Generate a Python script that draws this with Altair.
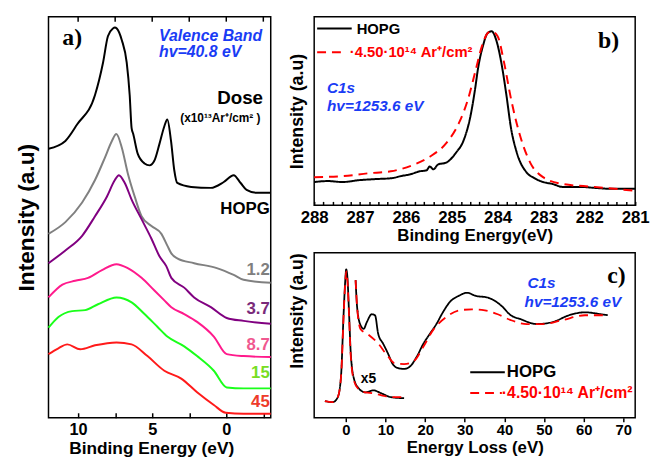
import altair as alt
import pandas as pd

SANS = "Liberation Sans"
SERIF = "Liberation Serif"
BLUE = "#1a3cf5"

# ---------------- Panel a: valence band spectra ----------------
a_names = ["HOPG", "1.2", "3.7", "8.7", "15", "45"]
a_line_colors = ["#000000", "#808080", "#800080", "#ff1a8c", "#1aff1a", "#ff1a1a"]
a_label_colors = ["#000000", "#7f7f7f", "#7a2a7a", "#f0588f", "#77dd22", "#ee3b2a"]

a_hopg_x = [12.0, 10.86, 10.06, 8.86, 8.32, 7.99, 7.65, 7.52, 7.39, 7.05, 6.72, 6.52, 6.39, 6.28, 5.98,
            5.52, 5.18, 4.85, 4.51, 4.18, 3.98, 3.73, 3.51, 3.31, 2.37, 1.04, 0.17, -0.50, -0.97, -1.37,
            -2.04, -3.0]
a_hopg_y = [275, 283, 300, 330, 363, 390, 398, 399, 398, 386, 363, 330, 296, 290, 270,
            260, 258, 263, 280, 298, 305, 283, 253, 240, 236, 235, 241, 248, 240, 233,
            230, 230]
a_12_x = [12.0, 10.86, 9.73, 8.86, 8.19, 7.72, 7.42, 7.05, 6.65, 6.18, 5.72, 5.05, 4.38, 3.98, 3.71,
          3.31, 2.17, 0.64, -0.50, -1.17, -3.0]
a_12_y = [188, 200, 220, 243, 266, 283, 290, 276, 250, 226, 206, 196, 188, 176, 168,
          163, 158, 153, 146, 141, 138]
a_37_x = [12.0, 10.86, 9.73, 8.86, 8.06, 7.52, 7.25, 6.85, 6.39, 5.72, 5.05, 4.51, 4.05, 3.71, 2.84,
          2.17, 1.04, -0.03, -1.17, -3.0]
a_37_y = [158, 171, 186, 206, 226, 243, 248, 240, 223, 203, 183, 165, 155, 143, 133,
          123, 113, 102, 99, 96]
a_87_x = [12.0, 11.06, 10.2, 9.33, 8.39, 7.41, 6.65, 5.72, 4.85, 4.18, 3.71, 2.84, 1.97, 0.84, -0.03,
          -1.17, -3.0]
a_87_y = [123, 136, 140, 143, 151, 157, 153, 143, 130, 120, 113, 106, 98, 83, 65, 63, 62]
a_15_x = [12.0, 11.33, 10.4, 9.53, 8.66, 7.41, 6.39, 5.52, 4.65, 3.98, 2.84, 1.97, 0.84, -0.03, -1.17, -3.0]
a_15_y = [92, 103, 109, 110, 116, 123, 118, 106, 93, 83, 73, 63, 48, 31, 30, 30]
a_45_x = [12.0, 11.33, 10.73, 9.86, 8.86, 7.41, 6.39, 5.32, 4.18, 3.04, 1.97, 0.84, 0.03, -1.17, -3.0]
a_45_y = [65, 71, 75, 70, 74, 77, 75, 63, 48, 40, 26, 13, 5, 4, 4]
a_ticks = [10, 7.5, 5, 2.5, 0, -2.5]

# ---------------- Panel b: C1s core level ----------------
b_names = ["HOPG", "4.50·10¹⁴ Ar⁺/cm²"]
b_hopg_x = [288.0, 287.7, 287.39, 287.0, 286.67, 286.3, 286.12, 285.9, 285.70, 285.55, 285.48, 285.40,
            285.3, 285.12, 284.91, 284.74, 284.60, 284.49, 284.43, 284.32, 284.22, 284.13, 284.03,
            283.92, 283.81, 283.71, 283.58, 283.37, 283.2, 283.01, 282.8, 282.59, 282.2, 281.89,
            281.5, 281.0]
b_hopg_y = [24, 25, 24, 26, 27, 28, 30, 32, 35, 36, 40, 37,
            42, 44, 54, 67, 90, 120, 140, 164, 177, 179, 170,
            147, 114, 80, 54, 34, 28, 24, 22, 19, 19, 18,
            17, 17]
b_dose_x = [288.0, 287.39, 286.82, 286.33, 285.82, 285.48, 285.12, 284.85, 284.64, 284.49, 284.34,
            284.22, 284.13, 284.00, 283.86, 283.71, 283.50, 283.29, 283.01, 282.59, 281.89, 281.0]
b_dose_y = [29, 30, 33, 35, 42, 50, 64, 84, 110, 137, 164,
            177, 179, 174, 147, 110, 70, 44, 29, 22, 19, 15]
b_ticks = [round(281 + 0.2 * i, 1) for i in range(36)]

# ---------------- Panel c: energy loss ----------------
c_hopg_up_x = [2.45, 2.84, 3.67, 4.48, 5.29, 6.51, 7.35, 8.15, 9.38, 10.6, 11.82, 13.05, 14.69, 16.3,
               17.94, 19.58, 21.2, 22.84, 24.48, 26.1, 28.54, 30.6, 32.63, 35.88, 39.16, 41.6, 44.06,
               48.12, 52.2, 56.29, 60.35, 64.44, 66.08]
c_hopg_up_y = [141, 113, 95, 91, 98, 106, 105, 86, 76, 66, 55, 51, 50, 53,
               63, 76, 86, 96, 108, 118, 125, 128, 125, 123, 115, 105, 101,
               96, 98, 105, 108, 106, 105]
c_dose_up_x = [2.45, 2.84, 3.67, 5.71, 8.15, 10.6, 12.23, 14.69, 17.13, 19.58, 22.03, 25.3, 28.54,
               31.82, 35.07, 38.33, 41.6, 45.67, 49.76, 54.65, 60.35, 66.08]
c_dose_up_y = [141, 113, 91, 85, 76, 63, 56, 55, 58, 73, 90, 103, 110,
               111, 110, 106, 100, 96, 96, 100, 105, 105]
c_hopg_lo_x = [-5.3, -3.3, -2.05, -1.22, -0.58, -0.17, 0.08, 0.4, 0.81, 1.23, 2.03, 3.26, 4.9, 6.93,
               8.96, 11.41, 14.69]
c_hopg_lo_y = [17, 16, 21, 43, 106, 140, 152, 143, 106, 66, 40, 30, 26, 28, 25, 21, 20]
c_dose_lo_x = [-5.3, -3.3, -2.05, -1.22, -0.58, -0.17, 0.08, 0.4, 0.81, 1.23, 2.03, 3.26, 4.9, 6.93,
               8.96, 11.41, 15.0]
c_dose_lo_y = [17, 16, 21, 42, 104, 138, 150, 140, 103, 63, 38, 29, 26, 25, 23, 21, 21]
c_ticks = [0, 10, 20, 30, 40, 50, 60, 70]


def long_df(parts):
    rows = []
    for name, part, xs, ys in parts:
        for xv, yv in zip(xs, ys):
            rows.append({"s": name, "part": part, "x": xv, "y": yv})
    return pd.DataFrame(rows)


def txt(s, x, y, size, color="black", align="left", font=SANS, style="normal"):
    return alt.Chart(pd.DataFrame({"t": [s]})).mark_text(
        align=align, baseline="middle", fontSize=size, font=font, fontStyle=style,
        fontWeight="bold", color=color
    ).encode(text="t:N", x=alt.value(x), y=alt.value(y))


def swatch(x1, x2, y, color, dash=None):
    kw = dict(color=color, strokeWidth=2)
    if dash:
        kw["strokeDash"] = dash
    return alt.Chart(pd.DataFrame({"k": [0]})).mark_rule(**kw).encode(
        x=alt.value(x1), x2=alt.value(x2), y=alt.value(y))


# ---------- build panel a ----------
AH = 406
dfa = long_df([
    ("HOPG", "m", a_hopg_x, a_hopg_y), ("1.2", "m", a_12_x, a_12_y), ("3.7", "m", a_37_x, a_37_y),
    ("8.7", "m", a_87_x, a_87_y), ("15", "m", a_15_x, a_15_y), ("45", "m", a_45_x, a_45_y)])
xa_scale = alt.Scale(domain=[-3, 12], reverse=True, nice=False, zero=False)
ya_scale = alt.Scale(domain=[0, 410], nice=False, zero=False)
xa_axis = alt.Axis(
    values=a_ticks, labelExpr="datum.value % 5 == 0 ? format(datum.value, 'd') : ''",
    offset=-5, tickSize=5, labelPadding=4, labelFontSize=16.5, labelFlush=False,
    labelOverlap=False, title="Binding Energy (eV)", titleFontSize=17.5, titlePadding=2,
    titleX=104)

a_lines = alt.Chart(dfa).mark_line(strokeWidth=2, interpolate="monotone").encode(
    x=alt.X("x:Q", scale=xa_scale, axis=xa_axis),
    y=alt.Y("y:Q", scale=ya_scale, axis=alt.Axis(
        title="Intensity (a.u)", ticks=False, labels=False, titleFontSize=23, titlePadding=10)),
    color=alt.Color("s:N", scale=alt.Scale(domain=a_names, range=a_line_colors), legend=None),
)
# inward ticks along the top edge, at the same tick values as the bottom axis
a_top = alt.Chart(pd.DataFrame({"v": a_ticks})).mark_rule(color="black", strokeWidth=1.5).encode(
    x=alt.X("v:Q", scale=xa_scale, axis=xa_axis),
    y=alt.value(0), y2=alt.value(5),
)
a_texts = [
    txt("a)", 24, 22, 24, "black", "center", SERIF),
    txt("Valence Band", 112, 20, 16, BLUE, style="italic"),
    txt("hv=40.8 eV", 112, 36, 16, BLUE, style="italic"),
    txt("Dose", 194, 82, 19, "black", "center"),
    txt("(x10¹³Ar⁺/cm² )", 174, 103, 12, "black", "center"),
]
a_label_y = [195, 256, 296, 332, 361, 390]
for nm, col, yy in zip(a_names, a_label_colors, a_label_y):
    a_texts.append(txt(nm, 224, yy, 17, col, "right"))

panel_a = alt.layer(a_lines, a_top, *a_texts).properties(width=225, height=AH)

# ---------- build panel b ----------
BW = 325
dfb = long_df([(b_names[0], "m", b_hopg_x, b_hopg_y), (b_names[1], "m", b_dose_x, b_dose_y)])
b_lines = alt.Chart(dfb).mark_line(strokeWidth=2, interpolate="monotone").encode(
    x=alt.X("x:Q", scale=alt.Scale(domain=[281, 288], reverse=True, nice=False, zero=False),
            axis=alt.Axis(values=b_ticks,
                          labelExpr="datum.value % 1 == 0 ? format(datum.value, 'd') : ''",
                          offset=-4, tickSize=4, labelPadding=4, labelFontSize=17,
                          labelFlush=False, labelOverlap=False, title="Binding Energy(eV)",
                          titleFontSize=17, titlePadding=3)),
    y=alt.Y("y:Q", scale=alt.Scale(domain=[0, 194], nice=False, zero=False),
            axis=alt.Axis(title="Intensity (a.u)", ticks=False, labels=False,
                          titleFontSize=18, titlePadding=8)),
    color=alt.Color("s:N", scale=alt.Scale(domain=b_names, range=["#000000", "#ff0000"]), legend=None),
    strokeDash=alt.StrokeDash("s:N", scale=alt.Scale(domain=b_names, range=[[1, 0], [9, 6]]),
                              legend=None),
)
b_texts = [
    txt("b)", 298, 25, 24, "black", "center", SERIF),
    txt("C1s", 13, 72, 15.5, BLUE, style="italic"),
    txt("hv=1253.6 eV", 13, 90, 15.5, BLUE, style="italic"),
    swatch(3, 38, 12, "#000000"),
    txt(b_names[0], 43, 12, 15, "black"),
    swatch(3, 33, 36, "#ff0000", [9, 6]),
    txt("·" + b_names[1], 36, 36, 15, "#ff0000"),
]
panel_b = alt.layer(b_lines, *b_texts).properties(width=BW, height=191)

# ---------- build panel c ----------
dfc = long_df([
    (b_names[0], "up", c_hopg_up_x, c_hopg_up_y), (b_names[1], "up", c_dose_up_x, c_dose_up_y),
    (b_names[0], "lo", c_hopg_lo_x, c_hopg_lo_y), (b_names[1], "lo", c_dose_lo_x, c_dose_lo_y)])
c_lines = alt.Chart(dfc).mark_line(strokeWidth=1.8, interpolate="monotone").encode(
    x=alt.X("x:Q", scale=alt.Scale(domain=[-8, 73], nice=False, zero=False),
            axis=alt.Axis(values=c_ticks, tickSize=4, labelPadding=1, labelFontSize=15,
                          labelFlush=False, labelOverlap=False, title="Energy Loss (eV)",
                          titleFontSize=17, titlePadding=2)),
    y=alt.Y("y:Q", scale=alt.Scale(domain=[0, 169], nice=False, zero=False),
            axis=alt.Axis(title="Intensity (a.u)", ticks=False, labels=False,
                          titleFontSize=18, titlePadding=8, titleAnchor="end")),
    color=alt.Color("s:N", scale=alt.Scale(domain=b_names, range=["#000000", "#ff0000"]), legend=None),
    strokeDash=alt.StrokeDash("s:N", scale=alt.Scale(domain=b_names, range=[[1, 0], [9, 6]]),
                              legend=None),
    detail="part:N",
)
c_texts = [
    txt("c)", 306, 24, 24, "black", "center", SERIF),
    txt("C1s", 216, 31, 15.5, BLUE, style="italic"),
    txt("hv=1253.6 eV", 213, 50, 15.5, BLUE, style="italic"),
    txt("x5", 55, 128, 14, "black", "center"),
    swatch(158, 193, 121, "#000000"),
    txt(b_names[0], 195, 121, 17, "black"),
    swatch(158, 190, 142, "#ff0000", [9, 6]),
    txt("·" + b_names[1], 190, 142, 16, "#ff0000"),
]
panel_c = alt.layer(c_lines, *c_texts).properties(width=BW, height=167)

chart = alt.hconcat(
    panel_a,
    alt.vconcat(panel_b, panel_c, spacing=7),
    spacing=12
).resolve_scale(
    color="independent", strokeDash="independent"
).properties(
    padding={"left": 7, "top": 4, "right": 0, "bottom": 0}
).configure_view(
    stroke="black", strokeWidth=1.5
).configure_axis(
    grid=False, domain=False, labelFont=SANS, titleFont=SANS, labelFontWeight="bold",
    titleFontWeight="bold", labelColor="black", titleColor="black", tickColor="black",
    tickWidth=1.5
)

chart.save("out.html", embed_options={"renderer": "svg", "actions": False})
